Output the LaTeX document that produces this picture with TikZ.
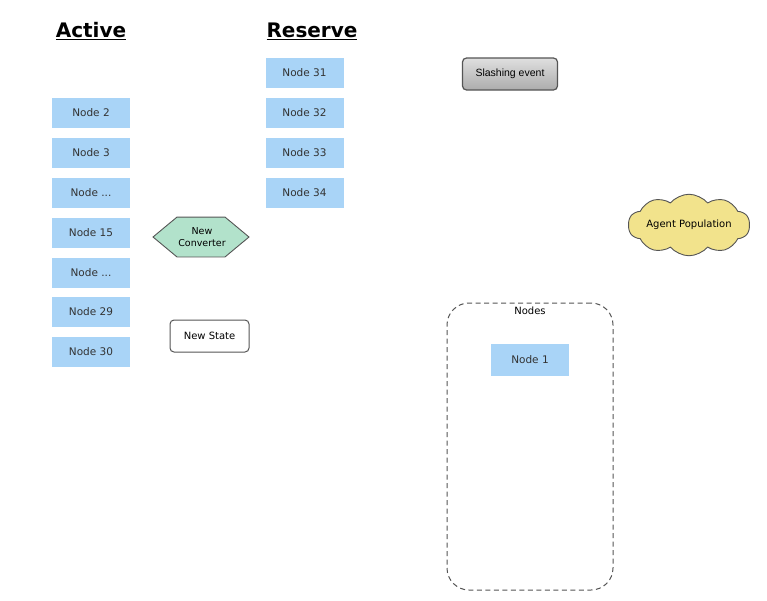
\documentclass[tikz,border=0pt]{standalone}
\usepackage{fontspec}
\setmainfont{DejaVu Sans}
\newfontfamily\lib{Liberation Sans}
\usetikzlibrary{shapes.geometric,shapes.symbols,shadings}
\definecolor{nodeblue}{HTML}{A9D4F7}
\definecolor{convgreen}{HTML}{B2E2CB}
\definecolor{cloudyellow}{HTML}{F2E38C}
\definecolor{edgegray}{HTML}{555555}
\begin{document}
\begin{tikzpicture}[x=1pt,y=-1pt,
  nodebox/.style={fill=nodeblue,minimum width=78pt,minimum height=30pt,inner sep=0pt,font=\fontsize{10.5}{12}\selectfont,text=black!80},
  title/.style={font=\fontsize{20}{24}\selectfont\bfseries,inner sep=1pt},
]
\useasboundingbox (0,0) rectangle (767,600);
\fill[white] (0,0) rectangle (767,600);
% titles
\node[title] (active) at (91,31) {\underline{Active}};
\node[title] (reserve) at (312,31) {\underline{Reserve}};
% active column
\node[nodebox] (n2) at (91,113) {Node 2};
\node[nodebox] (n3) at (91,153) {Node 3};
\node[nodebox] (na) at (91,193) {Node ...};
\node[nodebox] (n15) at (91,233) {Node 15};
\node[nodebox] (nb) at (91,273) {Node ...};
\node[nodebox] (n29) at (91,312) {Node 29};
\node[nodebox] (n30) at (91,352) {Node 30};
% reserve column
\node[nodebox] (n31) at (304.5,73) {Node 31};
\node[nodebox] (n32) at (304.5,113) {Node 32};
\node[nodebox] (n33) at (304.5,153) {Node 33};
\node[nodebox] (n34) at (304.5,193) {Node 34};
% slashing event
\node[draw=edgegray,line width=1.2pt,rounded corners=4pt,top color=gray!25,bottom color=gray!65,
  minimum width=95pt,minimum height=32pt,inner sep=0pt,font=\lib\fontsize{10.5}{12}\selectfont] (slash) at (510,74) {Slashing event};
% new converter
\node[draw=edgegray,line width=0.9pt,fill=convgreen,regular polygon,regular polygon sides=6,shape border rotate=0,
  minimum width=96pt,inner sep=0pt,xscale=1,yscale=0.48] (conv) at (201,237) {};
\node[font=\fontsize{9.5}{11.5}\selectfont,align=center,inner sep=0pt] (convlabel) at (202,237) {New\\Converter};
% new state
\node[draw=edgegray,line width=1pt,rounded corners=4pt,fill=white,minimum width=79pt,minimum height=32pt,
  inner sep=0pt,font=\fontsize{10}{12}\selectfont] (state) at (209.5,336) {New State};
% agent population
\node[draw=edgegray,line width=0.9pt,fill=cloudyellow,cloud,cloud puffs=10,cloud puff arc=100,aspect=2.6,
  minimum width=120pt,minimum height=52pt,inner sep=0pt,font=\fontsize{10}{12}\selectfont] (agent) at (689,225) {Agent Population};
% nodes container
\node[draw=edgegray,line width=1pt,dashed,dash pattern=on 5pt off 3.5pt,rounded corners=22pt,
  minimum width=166pt,minimum height=287pt,inner sep=0pt] (container) at (530,446.5) {};
\node[font=\fontsize{10}{12}\selectfont,anchor=north,inner sep=0pt] (contlabel) at ([yshift=-4pt]container.north) {Nodes};
\node[nodebox,minimum height=32pt] (n1) at (530,360) {Node 1};
\end{tikzpicture}
\end{document}
